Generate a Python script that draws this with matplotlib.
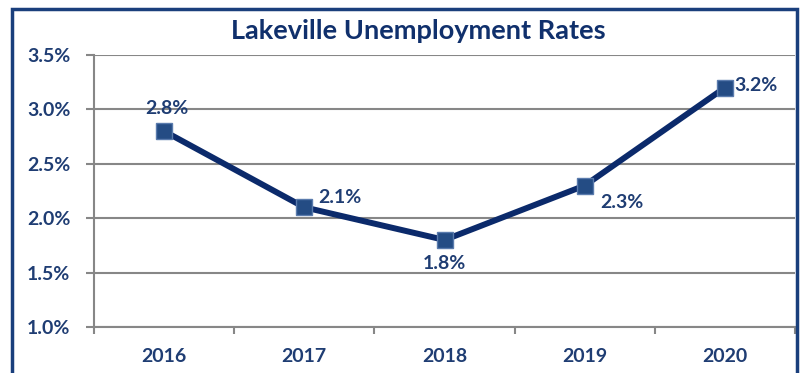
import matplotlib.pyplot as plt
from matplotlib.patches import Rectangle

# === data ===
years = ['2016', '2017', '2018', '2019', '2020']
rates = [2.8, 2.1, 1.8, 2.3, 3.2]
# label placement: (offset x pt, offset y pt, horizontal alignment)
label_pos = [(2, 16, 'center'), (10, 7, 'left'), (0, -17, 'center'),
             (11, -12, 'left'), (6.5, 1.5, 'left')]

text_color = '#1f3d73'
title_color = '#10306c'
line_color = '#0b2a6b'
marker_face = '#244c84'
marker_edge = '#5a7bad'
grid_color = '#878787'

plt.rcParams['font.family'] = ['Lato', 'DejaVu Sans']

fig = plt.figure(figsize=(8.01, 3.73), dpi=100)
ax = fig.add_axes([94 / 801, 1 - 327 / 373, 701 / 801, 272 / 373])

x = [i + 0.5 for i in range(len(years))]
ax.plot(x, rates, color=line_color, linewidth=4.3, marker='s', markersize=11,
        markerfacecolor=marker_face, markeredgecolor=marker_edge,
        markeredgewidth=1, zorder=3, clip_on=False)

for xi, r, (dx, dy, ha) in zip(x, rates, label_pos):
    ax.annotate(f'{r:.1f}%', (xi, r), xytext=(dx, dy), textcoords='offset points',
                ha=ha, va='center', fontsize=14, fontweight='bold',
                color=text_color)

# axes
ax.set_xlim(0, len(years))
ax.set_ylim(1.0, 3.5)
yticks = [1.0, 1.5, 2.0, 2.5, 3.0, 3.5]
ax.set_yticks(yticks)
ax.set_yticklabels([f'{v:.1f}%' for v in yticks])
ax.set_xticks(range(len(years) + 1))
ax.set_xticklabels([])
ax.set_xticks(x, minor=True)
ax.set_xticklabels(years, minor=True)
ax.tick_params(axis='x', which='minor', length=0, pad=15)
ax.tick_params(axis='x', which='major', length=5, width=1.5, color=grid_color)
ax.tick_params(axis='y', length=6, width=1.5, color=grid_color, pad=11)
for lbl in ax.get_xticklabels(minor=True) + ax.get_yticklabels():
    lbl.set_fontsize(14)
    lbl.set_fontweight('bold')
    lbl.set_color(text_color)

ax.grid(axis='y', color=grid_color, linewidth=1.5)
ax.set_axisbelow(True)
for side in ['top', 'right']:
    ax.spines[side].set_visible(False)
for side in ['left', 'bottom']:
    ax.spines[side].set_color(grid_color)
    ax.spines[side].set_linewidth(1.5)

fig.text(418 / 801, 1 - 31 / 373, 'Lakeville Unemployment Rates', ha='center',
         va='center', fontsize=19.5, fontweight='bold', color=title_color)

# frame around the chart (bottom edge is cut off in the original)
fig.patches.append(Rectangle((12 / 801, -0.1), 785 / 801, 1.1 - 9 / 373,
                             transform=fig.transFigure, fill=False,
                             edgecolor='#1a3f7c', linewidth=2.5, zorder=5))

fig.savefig('out.png', dpi=100)
